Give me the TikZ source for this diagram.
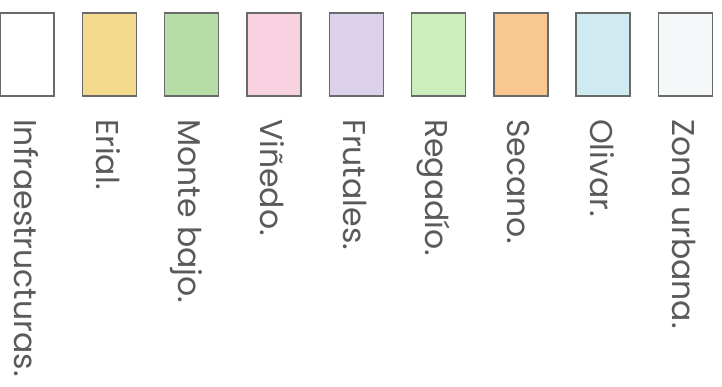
\documentclass[tikz,border=0pt]{standalone}
\usepackage{fontspec}
\setmainfont{Poppins}
\definecolor{boxgray}{HTML}{6A6A6A}
\definecolor{textgray}{HTML}{5A5A5A}
\definecolor{erial}{HTML}{F4DA8C}
\definecolor{montebajo}{HTML}{B6DEA6}
\definecolor{vinedo}{HTML}{F8D2E0}
\definecolor{frutales}{HTML}{DDD2EC}
\definecolor{regadio}{HTML}{CCEDBC}
\definecolor{secano}{HTML}{F9C890}
\definecolor{olivar}{HTML}{CFEAF0}
\definecolor{urbana}{HTML}{F5F8F8}

\begin{document}
\begin{tikzpicture}[x=1pt, y=-1pt,
  legendbox/.style={draw=boxgray, line width=1.4pt, minimum width=54pt,
                    minimum height=83pt, inner sep=0pt},
  legendtext/.style={rotate=-90, anchor=base west, inner sep=0pt,
                     text=textgray, font=\fontsize{31.5}{31.5}\selectfont}]
  \useasboundingbox (0,0) rectangle (722,387);
  % colour swatches and their labels
  \foreach \i/\col/\txt in {0/white/Infraestructuras., 1/erial/Erial.,
      2/montebajo/Monte bajo., 3/vinedo/Viñedo., 4/frutales/Frutales.,
      5/regadio/Regadío., 6/secano/Secano., 7/olivar/Olivar.,
      8/urbana/Zona urbana.} {
    \node[legendbox, fill=\col] (box\i) at ({27+82.3*\i},54.5) {};
    \node[legendtext] (lab\i) at ({14+82.3*\i},119) {\txt};
  }
\end{tikzpicture}
\end{document}
